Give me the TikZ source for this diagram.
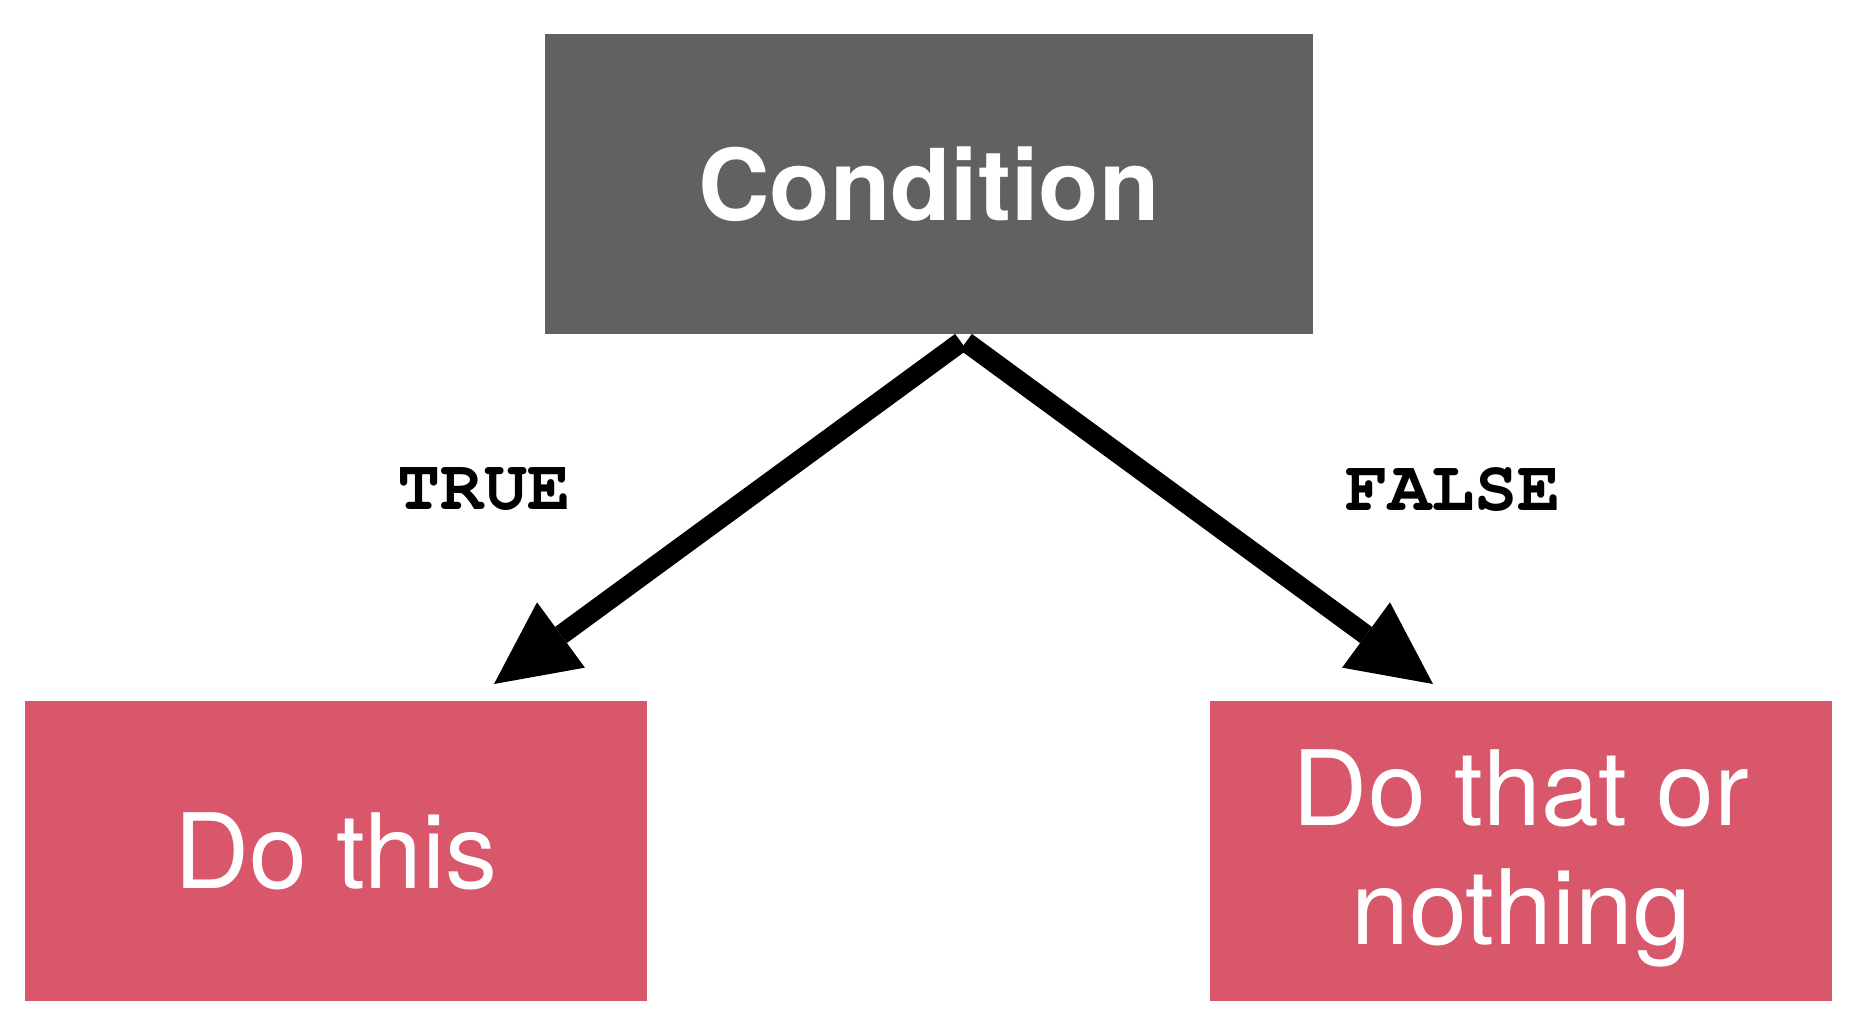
\documentclass[tikz,border=0pt]{standalone}
\usepackage[T1]{fontenc}
\usepackage{fontspec}
\setmainfont{TeX Gyre Heros}
\usetikzlibrary{arrows.meta}
\definecolor{condgray}{RGB}{97,97,97}
\definecolor{actred}{RGB}{217,87,107}
\newcommand{\courierbf}{\fontencoding{T1}\fontfamily{pcr}\fontseries{b}\selectfont}
\begin{document}
\begin{tikzpicture}[x=0.5pt,y=-0.5pt,
		cond/.style={fill=condgray,text=white,inner sep=0pt,outer sep=0pt,minimum width=384pt,minimum height=150pt,font=\fontsize{49.5}{59.4}\selectfont\bfseries},
		act/.style={fill=actred,text=white,inner sep=0pt,outer sep=0pt,minimum width=311pt,minimum height=150pt,align=center,font=\fontsize{52}{59.3}\selectfont},
		branch/.style={line width=10pt,-{Triangle[length=41.5pt,width=40.5pt,line width=0pt]}},
		lbl/.style={font=\courierbf\fontsize{36}{36}\selectfont}]
		\useasboundingbox (0,0) rectangle (1858,1018);
		\node[cond] (cond) at (929,184) {Condition};
		\node[act] (dothis) at (336,851) {Do this};
		\node[act,text height=110pt,text depth=17pt] (dothat) at (1521,851) {Do that or\\nothing};
		\coordinate (tstart) at (961,342);
		\coordinate (fstart) at (966,342);
		\coordinate (ttip) at (494,684);
		\coordinate (ftip) at (1433,684);
		\draw[branch] (tstart) -- (ttip);
		\draw[branch] (fstart) -- (ftip);
		\node[lbl] (tlbl) at (484,490) {TRUE};
		\node[lbl] (flbl) at (1453,490) {FALSE};
		\end{tikzpicture}
\end{document}
